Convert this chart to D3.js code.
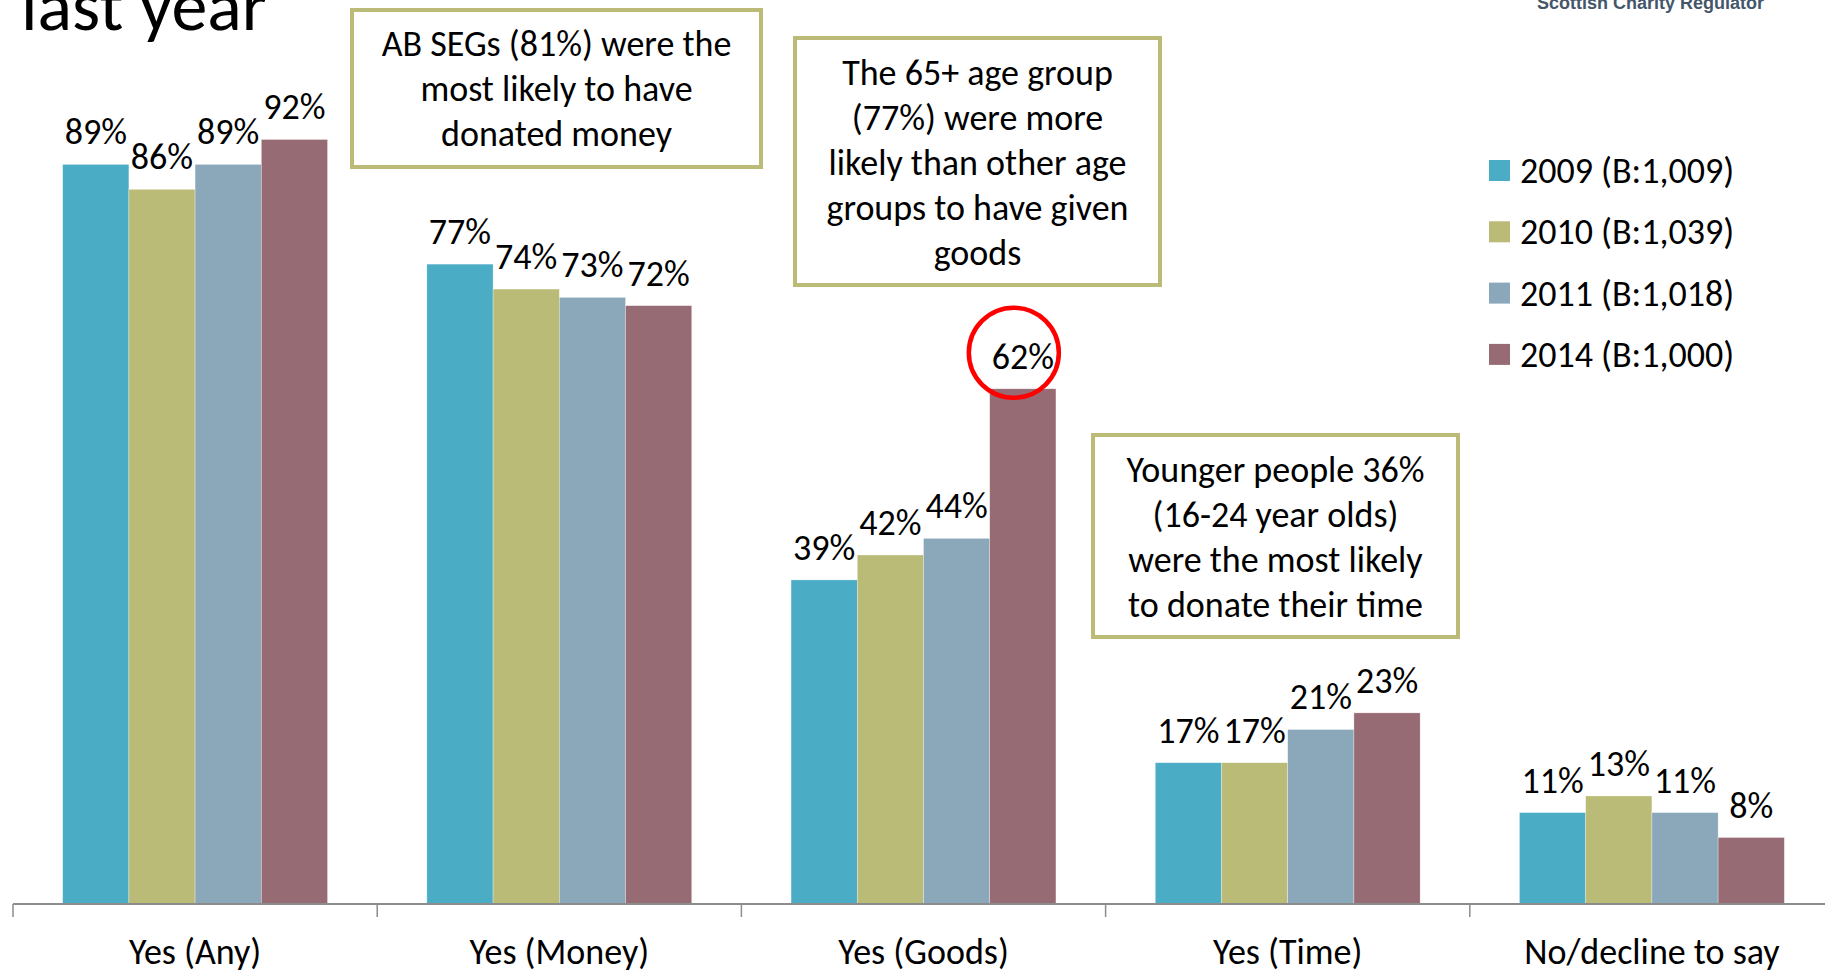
<!DOCTYPE html>
<html>
<head>
<meta charset="utf-8">
<script src="https://cdn.jsdelivr.net/npm/d3@7"></script>
<style>
  body { margin: 0; background: #fff; }
  svg { display: block; }
  text { font-family: Carlito, Calibri, Lato, sans-serif; fill: #000; }
</style>
</head>
<body>
<svg width="1825" height="970"></svg>
<script>
var categories = ["Yes (Any)", "Yes (Money)", "Yes (Goods)", "Yes (Time)", "No/decline to say"];
var years = ["2009", "2010", "2011", "2014"];
var legendLabels = ["2009 (B:1,009)", "2010 (B:1,039)", "2011 (B:1,018)", "2014 (B:1,000)"];
var values2009 = [89, 77, 39, 17, 11];
var values2010 = [86, 74, 42, 17, 13];
var values2011 = [89, 73, 44, 21, 11];
var values2014 = [92, 72, 62, 23, 8];
var colors = ["#4bacc6", "#babb77", "#8aa8ba", "#976b74"];

var note1 = ["AB SEGs (81%) were the", "most likely to have", "donated money"];
var note2 = ["The 65+ age group", "(77%) were more", "likely than other age", "groups to have given", "goods"];
var note3 = ["Younger people 36%", "(16-24 year olds)", "were the most likely", "to donate their time"];

var series = [values2009, values2010, values2011, values2014];

var fontSize = "36px";

var svg = d3.select("svg");

var x0 = d3.scaleBand()
    .domain(categories)
    .range([13, 1834]);

var x1 = d3.scaleBand()
    .domain(years)
    .range([0, x0.bandwidth()])
    .paddingOuter(0.75);

var y = d3.scaleLinear()
    .domain([0, 100])
    .range([904, 73]);

// title (cut off at top) and logo text
svg.append("text")
    .attr("x", 21)
    .attr("y", 30)
    .style("font-size", "72px")
    .text("last year");

svg.append("text")
    .attr("x", 1537)
    .attr("y", 9)
    .style("font-family", "'Liberation Sans', Arial, sans-serif")
    .style("font-weight", "bold")
    .style("font-size", "18px")
    .style("fill", "#44566a")
    .text("Scottish Charity Regulator");

// bars
var groups = svg.append("g")
    .selectAll("g")
    .data(categories)
    .enter().append("g")
    .attr("transform", function(d) { return "translate(" + x0(d) + ",0)"; });

var cells = groups.selectAll("g")
    .data(function(c, ci) {
      return years.map(function(yr, si) {
        return {year: yr, value: series[si][ci], color: colors[si]};
      });
    })
    .enter().append("g");

cells.append("rect")
    .attr("x", function(d) { return x1(d.year); })
    .attr("y", function(d) { return y(d.value); })
    .attr("width", x1.bandwidth())
    .attr("height", function(d) { return y(0) - y(d.value); })
    .attr("fill", function(d) { return d.color; })
    .attr("stroke", "#ffffff")
    .attr("stroke-opacity", 0.5)
    .attr("stroke-width", 0.6);

cells.append("text")
    .attr("x", function(d) { return x1(d.year) + x1.bandwidth() / 2; })
    .attr("y", function(d) { return y(d.value) - 20; })
    .attr("text-anchor", "middle")
    .style("font-size", fontSize)
    .text(function(d) { return d.value + "%"; });

// axis: baseline, category dividers, labels
var axisG = svg.append("g")
    .attr("transform", "translate(0," + y(0) + ")");

axisG.append("line")
    .attr("x1", x0.range()[0])
    .attr("x2", x0.range()[1])
    .attr("stroke", "#8c8c8c")
    .attr("stroke-width", 2);

var edges = categories.map(function(c) { return x0(c); }).concat([x0.range()[1]]);
axisG.selectAll(".divider")
    .data(edges)
    .enter().append("line")
    .attr("class", "divider")
    .attr("x1", function(d) { return d; })
    .attr("x2", function(d) { return d; })
    .attr("y1", 0)
    .attr("y2", 13)
    .attr("stroke", "#8c8c8c")
    .attr("stroke-width", 1.5);

var xAxis = d3.axisBottom(x0).tickSize(0).tickPadding(0);
var labelsG = svg.append("g")
    .attr("transform", "translate(0," + y(0) + ")")
    .call(xAxis);
labelsG.select(".domain").remove();
labelsG.selectAll("text")
    .attr("y", 60)
    .attr("dy", null)
    .style("font-size", fontSize)
    .style("font-family", "Carlito, Calibri, Lato, sans-serif")
    .attr("fill", "#000");

// legend
var legend = svg.append("g")
    .selectAll("g")
    .data(legendLabels)
    .enter().append("g")
    .attr("transform", function(d, i) { return "translate(1489," + (160 + i * 61.3) + ")"; });

legend.append("rect")
    .attr("width", 21)
    .attr("height", 21)
    .attr("fill", function(d, i) { return colors[i]; });

legend.append("text")
    .attr("x", 31)
    .attr("y", 23)
    .style("font-size", fontSize)
    .text(function(d) { return d; });

// annotation boxes
function note(lines, left, top, right, bottom, firstBaseline) {
  var g = svg.append("g");
  g.append("rect")
      .attr("x", left)
      .attr("y", top)
      .attr("width", right - left)
      .attr("height", bottom - top)
      .attr("fill", "#fff")
      .attr("stroke", "#bbbb77")
      .attr("stroke-width", 4);
  g.selectAll("text")
      .data(lines)
      .enter().append("text")
      .attr("x", (left + right) / 2)
      .attr("y", function(d, i) { return firstBaseline + i * 45; })
      .attr("text-anchor", "middle")
      .style("font-size", fontSize)
      .text(function(d) { return d; });
}

note(note1, 352, 10, 761, 167, 56);
note(note2, 795, 38, 1160, 285, 85);
note(note3, 1093, 435, 1458, 637, 482);

// red highlight ring around the 2014 goods label
var ci = categories.indexOf("Yes (Goods)");
svg.append("circle")
    .attr("cx", x0("Yes (Goods)") + x1("2014") + x1.bandwidth() / 2 - 9)
    .attr("cy", y(values2014[ci]) - 36)
    .attr("r", 45)
    .attr("fill", "none")
    .attr("stroke", "#ff0000")
    .attr("stroke-width", 4.5);
</script>
</body>
</html>
